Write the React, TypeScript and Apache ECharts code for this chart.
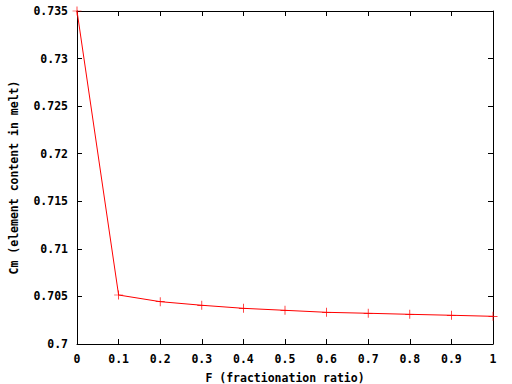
import React, { useEffect, useRef } from "react";
import * as echarts from "echarts";

const fValues = [0, 0.1, 0.2, 0.3, 0.4, 0.5, 0.6, 0.7, 0.8, 0.9, 1.0];
const cmValues = [0.735, 0.70515, 0.70445, 0.70407, 0.70375, 0.70354, 0.70333, 0.70323, 0.70312, 0.70302, 0.70291];
const xTitle = "F (fractionation ratio)";
const yTitle = "Cm (element content in melt)";

const FONT = "'DejaVu Sans Mono', 'Liberation Mono', monospace";

export default function App() {
  const ref = useRef<HTMLDivElement>(null);
  useEffect(() => {
    if (!ref.current) return;
    const chart = echarts.init(ref.current, null, { renderer: "svg" });
    const labelStyle = { color: "#000", fontFamily: FONT, fontWeight: "bold" as const, fontSize: 11.5 };
    const baseX = {
      type: "value" as const,
      min: 0,
      max: 1,
      interval: 0.1,
      splitLine: { show: false },
      axisLine: { show: true, onZero: false, lineStyle: { color: "#000", width: 1 } },
      axisTick: { show: true, inside: true, length: 5, lineStyle: { color: "#000" } },
    };
    const baseY = {
      type: "value" as const,
      min: 0.7,
      max: 0.735,
      interval: 0.005,
      splitLine: { show: false },
      axisLine: { show: true, onZero: false, lineStyle: { color: "#000", width: 1 } },
      axisTick: { show: true, inside: true, length: 5, lineStyle: { color: "#000" } },
    };
    chart.setOption({
      animation: false,
      backgroundColor: "#fff",
      grid: { left: 77, right: 19, top: 11, bottom: 40, containLabel: false, outerBoundsMode: "none" },
      xAxis: [
        {
          ...baseX,
          position: "bottom",
          name: xTitle,
          nameLocation: "middle",
          nameGap: 28,
          nameTextStyle: { ...labelStyle },
          axisLabel: { ...labelStyle, margin: 9, formatter: (v: number) => String(Math.round(v * 10) / 10) },
        },
        { ...baseX, position: "top", axisLabel: { show: false } },
      ],
      yAxis: [
        {
          ...baseY,
          position: "left",
          name: yTitle,
          nameLocation: "middle",
          nameGap: 57,
          nameRotate: 90,
          nameTextStyle: { ...labelStyle },
          axisLabel: { ...labelStyle, margin: 9, formatter: (v: number) => String(Math.round(v * 1000) / 1000) },
        },
        { ...baseY, position: "right", axisLabel: { show: false } },
      ],
      series: [
        {
          type: "line",
          data: fValues.map((f, i) => [f, cmValues[i]]),
          clip: false,
          lineStyle: { color: "#ff0000", width: 1 },
          itemStyle: { color: "#ff0000" },
          symbol: "path://M-1,-0.08H1V0.08H-1ZM-0.08,-1H0.08V1H-0.08Z",
          symbolSize: 9,
          showAllSymbol: true,
        },
      ],
    });
    return () => chart.dispose();
  }, []);
  return <div ref={ref} style={{ position: "absolute", left: 0, top: 0, width: 512, height: 384 }} />;
}
